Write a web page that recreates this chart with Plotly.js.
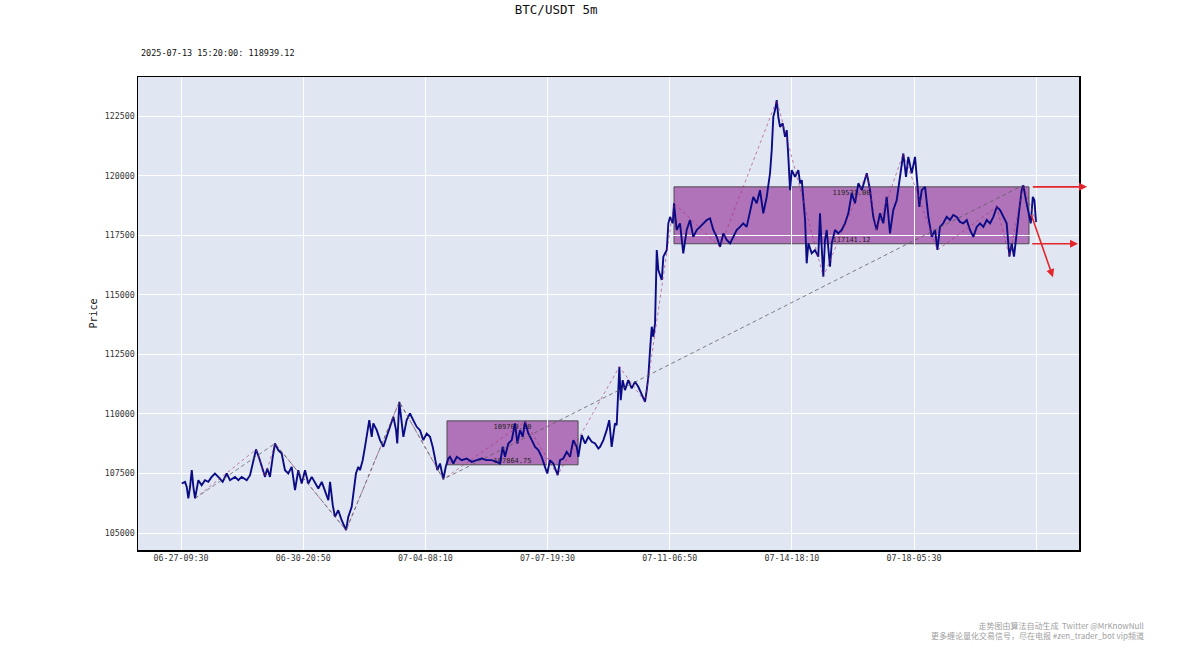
<!DOCTYPE html>
<html>
<head>
<meta charset="utf-8">
<script src="https://cdn.plot.ly/plotly-3.0.1.min.js"></script>
<style>html,body{margin:0;padding:0;background:#fff}#chart{width:1200px;height:666px}</style>
</head>
<body>
<div id="chart"></div>
<script>
// ---- price series (5m bar index, close) ----
const barIndex = [6,33,47,60,74,88,101,115,142,169,196,223,251,278,305,341,374,401,442,469,497,538,565,587,614,641,669,688,706,728,751,769,796,824,851,878,906,933,960,988,1015,1042,1070,1097,1124,1152,1179,1206,1220,1242,1260,1287,1315,1351,1369,
1397,1432,1451,1465,1487,1506,1525,1541,1561,1574,1602,1629,1656,1684,1711,1738,1760,1770,1787,1806,1820,1847,1874,1901,1929,1956,1983,2011,2038,2060,2079,2098,2120,2147,2167,2188,
2202,2229,2257,2298,2338,2379,2420,2461,2502,2543,2584,2611,2633,2652,2679,2707,2734,2753,2775,2797,2816,2843,2871,2898,2925,2952,2979,2998,3020,3047,3083,3102,3129,3157,3184,3211,3239,3252,3280,3307,3334,3362,3389,3416,
3430,3457,3484,3505,3525,3538,3552,3566,3574,3588,3599,3615,3634,3661,3689,3716,3743,3771,3798,3812,3825,
3839,3853,3866,3880,3894,3907,3935,3948,3976,3989,4003,4025,4035,4057,4084,4111,4139,4166,4193,4221,4248,4275,4303,4330,4357,4385,4412,4439,4467,4494,4521,4548,4575,4602,4630,4657,4684,4712,4739,4766,4794,4821,4835,4848,4862,4876,4889,4903,4925,4944,4958,4971,4985,4999,5026,5053,5067,5081,5094,5108,5121,5135,5162,5189,5216,5230,5244,5257,5271,5285,5312,5326,5353,5380,5408,5435,5462,5490,5517,5544,5572,5599,5613,5640,5666,5694,5721,5748,5776,5803,5830,5858,5885,5912,5934,5953,5981,6008,6022,6043,6063,6090,6117,6145,6172,6191,6212,6239,6267,6294,6321,6349,6376,6403,6431,6458,6485,6513,6540,6567,6595,6622,6649,6677,6704,6731,6758,6780,6799,6818,6840,6861,6881,6894,6916,6935,6955,6972,6985,6998];
const closePrice = [107080,107150,106940,106455,106940,107640,106940,106455,107220,107010,107220,107150,107360,107500,107360,107150,107500,107220,107360,107220,107360,107220,107430,107920,108510,108130,107640,107360,107710,107360,108200,108760,108480,108340,107640,107500,107780,106800,107640,107080,107640,107080,107360,107080,106870,107150,106730,106380,107150,106170,105680,105960,105540,105120,105680,
106100,107500,107780,107640,108060,108620,109320,109740,109040,109600,109320,108900,108620,109040,109460,109880,109320,108760,110510,109600,109040,109740,110020,109740,109460,109320,108900,109180,109040,108620,108060,107640,107920,107260,107780,108130,
108200,107920,108200,108060,108130,107990,108060,108130,108060,108060,107990,107920,108620,108200,108760,108900,109600,108760,109320,109040,109670,109180,108900,108620,108480,108200,107780,107500,108060,107920,107430,108060,108130,108410,108200,108900,108620,108200,109110,108760,109040,108830,108760,108550,
108620,108900,109320,109740,108620,109180,109600,109530,110580,111980,110580,111420,111000,111420,111070,111350,111140,110790,110510,111000,111560,
112680,113660,113240,113800,116880,116040,115620,116600,116880,118000,118270,118000,118840,117720,118000,116740,117720,118140,117430,117720,117850,118000,118140,118210,117720,117430,117010,117580,117300,117160,117430,117720,117850,118000,117850,118560,119110,118840,119390,118420,119110,120100,121070,122470,122750,123170,122470,122050,122190,121630,121910,120790,119390,120230,119950,120230,119680,119810,118840,118140,116320,117160,116740,116880,116600,118420,117010,115760,117300,117720,116180,117160,117720,117580,117720,118000,118420,119260,118840,119680,119390,119810,120100,119390,118270,117720,118420,118000,119110,117580,118560,118970,119950,120930,119950,120790,120100,120790,119950,118690,119390,119530,118270,117430,117720,116880,117850,118000,118270,118140,118350,118270,118060,118000,118140,117720,117430,117850,118000,117850,118140,118000,118270,118690,118560,118270,118000,116600,117160,116600,117720,118560,119390,119600,118970,118420,118000,119110,118970,118050];

// ---- strokes (bi) and segments ----
const biIdx   = [115,614,688,769,1351,1787,2147,2816,3083,3588,3798,4035,4412,4876,5257,5613,5694,5912,6191,6677,6780,6894,6998];
const biPrice = [106455,108510,107360,108760,105120,110510,107260,109670,107430,111980,110510,118840,117010,123170,115760,120100,117720,120930,116880,118690,116600,119600,118050];
const segIdx   = [115,769,1351,1787,2147,6894];
const segPrice = [106455,108760,105120,110510,107260,119600];

// ---- pivot boxes (zhongshu) ----
const boxStart = [2177,4035];
const boxEnd   = [3250,6941];
const boxLow   = [107864.75,117141.12];
const boxHigh  = [109709.00,119531.00];
const boxLowText  = ['107864.75','117141.12'];
const boxHighText = ['109709.00','119531.00'];

// ---- projection arrows ----
const arrowTailIdx   = [6960,6955,6955];
const arrowTailPrice = [119531,117141,118420];
const arrowHeadIdx   = [7416,7342,7137];
const arrowHeadPrice = [119531,117141,115740];

// ---- axis ticks ----
const tickIdx  = [0,1000,2000,3000,4000,5000,6000,7000];
const tickText = ['06-27-09:30','06-30-20:50','07-04-08:10','07-07-19:30','07-11-06:50','07-14-18:10','07-18-05:30',''];
const yTickVals = [105000,107500,110000,112500,115000,117500,120000,122500];

const chartTitle = 'BTC/USDT 5m';
const lastInfo = '2025-07-13 15:20:00: 118939.12';
const footer = '走势图由算法自动生成  Twitter @MrKnowNull<br>更多缠论量化交易信号，尽在电报 #zen_trader_bot vip频道';

const mono = 'DejaVu Sans Mono, monospace';

const traces = [
  {x: barIndex, y: closePrice, type: 'scatter', mode: 'lines',
   line: {color: '#0b0b85', width: 1.9}, hoverinfo: 'skip', showlegend: false},
  {x: biIdx, y: biPrice, type: 'scatter', mode: 'lines',
   line: {color: 'rgba(170,40,110,0.75)', width: 0.8, dash: 'dot'}, showlegend: false},
  {x: segIdx, y: segPrice, type: 'scatter', mode: 'lines',
   line: {color: 'rgba(90,90,90,0.85)', width: 0.9, dash: '4px,3px'}, showlegend: false}
];

const shapes = [];
for (let i = 0; i < boxStart.length; i++) {
  shapes.push({type: 'rect', layer: 'below', xref: 'x', yref: 'y',
    x0: boxStart[i], x1: boxEnd[i], y0: boxLow[i], y1: boxHigh[i],
    fillcolor: 'rgba(128,0,128,0.5)', line: {color: 'rgba(60,60,60,0.85)', width: 1},
    label: {text: boxHighText[i], textposition: 'top center', padding: 1,
            font: {family: mono, size: 7, color: '#222'}}});
  shapes.push({type: 'rect', layer: 'below', xref: 'x', yref: 'y',
    x0: boxStart[i], x1: boxEnd[i], y0: boxLow[i], y1: boxHigh[i],
    fillcolor: 'rgba(0,0,0,0)', line: {width: 0},
    label: {text: boxLowText[i], textposition: 'bottom center', padding: 1,
            font: {family: mono, size: 7, color: '#222'}}});
}

const annotations = [
  {xref: 'paper', yref: 'paper', x: 0.001, y: 1.051, xanchor: 'left', yanchor: 'middle',
   text: lastInfo, showarrow: false, font: {family: mono, size: 8.5, color: '#111'}},
  {xref: 'paper', yref: 'paper', x: 1.0713, y: -0.171, xanchor: 'right', yanchor: 'middle',
   align: 'right', text: footer, showarrow: false,
   font: {family: 'Noto Sans CJK SC, sans-serif', size: 8, color: '#a0a0a0'}}
];
for (let i = 0; i < arrowHeadIdx.length; i++) {
  annotations.push({xref: 'x', yref: 'y', axref: 'x', ayref: 'y',
    x: arrowHeadIdx[i], y: arrowHeadPrice[i], ax: arrowTailIdx[i], ay: arrowTailPrice[i],
    text: '', showarrow: true, arrowhead: 2, arrowsize: 1, arrowwidth: 1.6,
    arrowcolor: '#e3262b', standoff: 0, startstandoff: 0});
}

const layout = {
  width: 1200, height: 666, autosize: false,
  paper_bgcolor: '#ffffff', plot_bgcolor: '#E1E7F2',
  margin: {l: 138, r: 121, t: 77, b: 116, pad: 0},
  title: {text: chartTitle, xref: 'container', yref: 'container', x: 0.4635, y: 0.985,
          xanchor: 'center', yanchor: 'middle', font: {family: mono, size: 12.5, color: '#111'}},
  showlegend: false,
  xaxis: {range: [-352, 7350], tickmode: 'array', tickvals: tickIdx, ticktext: tickText,
          showgrid: true, gridcolor: '#ffffff', gridwidth: 1, zeroline: false,
          showline: true, mirror: true, linecolor: '#000', linewidth: 1.5, ticks: '',
          tickfont: {family: mono, size: 8.3, color: '#333'}, automargin: false},
  yaxis: {range: [104290, 124140], tickmode: 'array',
          tickvals: yTickVals, ticktext: yTickVals.map(String),
          showgrid: true, gridcolor: '#ffffff', gridwidth: 1, zeroline: false,
          showline: true, mirror: true, linecolor: '#000', linewidth: 1.5, ticks: '',
          tickfont: {family: mono, size: 8.3, color: '#333'}, automargin: false,
          title: {text: 'Price', standoff: 5, font: {family: mono, size: 10, color: '#111'}}},
  shapes: shapes,
  annotations: annotations
};

Plotly.newPlot('chart', traces, layout, {displayModeBar: false, staticPlot: true});
</script>
</body>
</html>
